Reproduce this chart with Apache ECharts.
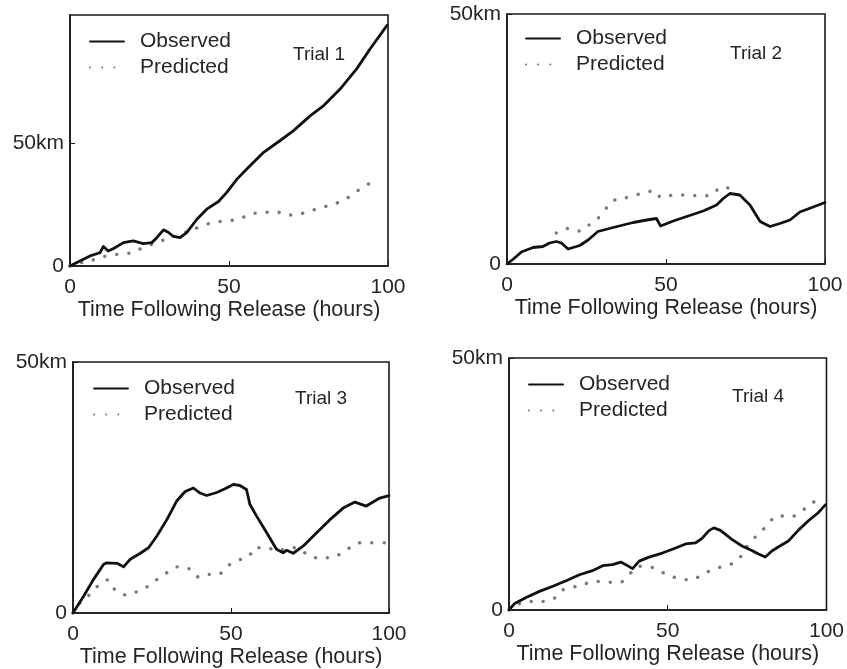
<!DOCTYPE html>
<html>
<head>
<meta charset="utf-8">
<title>Observed vs Predicted distance</title>
<script src="https://cdn.jsdelivr.net/npm/echarts@6/dist/echarts.min.js"></script>
<style>
  html, body { margin: 0; padding: 0; background: #ffffff; }
  #chart { width: 847px; height: 669px; }
</style>
</head>
<body>
<div id="chart"></div>
<script>
// Distance from release point (km) against time (hours), [hours, km]
var trial1Observed = [[0,0],[3.1,2],[6.3,4.1],[9.4,5.4],[10.5,7.9],[12,6.1],[13.7,7.1],[16.8,9.5],[19.9,10.2],[23,9.1],[25.7,9.5],[27.3,11.5],[29.4,14.7],[31,13.6],[32.5,12],[34.6,11.5],[36.7,13.6],[39.9,19],[43,23.1],[46.7,26.2],[49.3,29.9],[52.5,35.3],[55.6,39.4],[60.9,46.2],[66.1,51],[70.3,55],[75.6,61.1],[79.8,65.2],[85,72],[90.2,80.2],[94.4,88.3],[99.7,97.8]];
var trial1Predicted = [[0,0],[3.7,1.4],[7.9,2.7],[11.5,4.1],[15.2,4.8],[19.4,5.4],[23,7.5],[27.3,9.5],[31.5,11.5],[36.2,13.6],[40.9,15.9],[45.1,17.7],[49.3,18.3],[53.5,19.3],[56.6,21.1],[60.9,21.7],[64.5,22.1],[68.2,20.7],[71.9,21.1],[75.6,22.4],[79.2,23.8],[82.9,25.1],[86.6,27.2],[89.7,29.9],[93.4,33],[96.5,34.6]];

var trial2Observed = [[0,0],[2.4,1.2],[4.5,2.4],[8.2,3.3],[11.3,3.5],[13.4,4.2],[15.5,4.5],[17.1,4.2],[19.2,3],[22.9,3.7],[25.5,4.8],[28.6,6.5],[33.4,7.3],[39.7,8.3],[43.9,8.8],[47,9.1],[48.3,7.6],[52.3,8.6],[56.5,9.5],[61.7,10.6],[65.9,11.8],[68,13.1],[70.1,14.1],[73.2,13.8],[76.4,11.8],[79.6,8.5],[82.7,7.5],[85.8,8.1],[89,8.8],[92.1,10.4],[96.3,11.4],[100,12.3]];
var trial2Predicted = [[15.5,6.2],[19.2,7.1],[22.9,6.6],[26,7.9],[29.2,9.5],[33.9,12.8],[38.6,13.4],[42.8,14.2],[46.5,14.6],[48.6,13.3],[52.8,13.8],[57,13.8],[60.6,13.6],[64.3,13.8],[67.5,15.4],[70.6,15]];

var trial3Observed = [[0,0],[3.4,3.4],[6.5,6.7],[9.7,9.7],[10.7,10],[13.9,9.9],[16,9.2],[18.1,10.7],[21.3,11.9],[23.9,13],[26.5,15.3],[29.7,18.6],[32.8,22.3],[35.5,24.2],[38.1,24.9],[40.2,23.9],[42.3,23.4],[45.5,24],[48.6,24.9],[50.7,25.6],[52.8,25.4],[54.9,24.6],[56,21.6],[58.1,19.3],[61.3,16],[64.4,12.7],[66.5,12],[67.6,12.5],[69.7,11.9],[72.8,13.3],[77.1,16],[81.3,18.6],[85.5,20.9],[89.2,22.1],[92.8,21.3],[97.1,22.9],[100,23.4]];
var trial3Predicted = [[0,0],[2.3,2.1],[5.5,3.8],[8.1,5.5],[10.7,6.6],[13.4,4.6],[17.1,3.6],[20.7,4.4],[23.9,5.4],[27.1,6.9],[30.2,8.2],[33.4,9.2],[37.1,8.7],[40.2,7.1],[43.4,7.7],[45.5,7.6],[48.6,9.2],[51.8,10.4],[55.5,11.2],[57.6,13],[61.3,13],[64.4,12.4],[67.1,12.7],[70.2,13],[76.5,11],[80.7,11],[84.4,11.7],[87.6,13],[91.2,14],[94.9,14],[98.6,14]];

var trial4Observed = [[0,0],[1.8,1.3],[5.4,2.5],[9.6,3.7],[13.8,4.7],[18,5.8],[22.2,7],[26.3,7.8],[29.5,8.8],[32.6,9],[35.2,9.5],[36.8,9],[38.9,8.2],[41,9.7],[44.1,10.5],[48.3,11.3],[52.5,12.3],[55.6,13.1],[58.7,13.3],[60.8,14.2],[62.9,15.7],[64.5,16.3],[66.6,15.8],[70.2,14],[73.4,12.7],[76.5,11.8],[78.6,11.1],[80.7,10.5],[82.8,11.7],[84.8,12.5],[88,13.7],[91.1,15.8],[94.3,17.7],[97.4,19.3],[99.7,20.9]];
var trial4Predicted = [[0,0],[2.3,1],[6.5,1.7],[9.6,1.7],[13.3,2],[16.4,3.8],[20.1,4.5],[23.2,5],[26.9,5.7],[31,5.5],[34.7,5.5],[37.8,7.1],[42,8.7],[46.2,8.2],[49.8,7],[53.5,6.3],[57.2,6],[60.8,7],[64.5,8.1],[68.1,8.8],[71.8,9.8],[76,13.5],[79.1,15.3],[81.7,17.1],[84.8,18.7],[88.5,18.5],[92.1,19.7],[95.3,21],[97.9,23]];

var trialNames = ['Trial 1', 'Trial 2', 'Trial 3', 'Trial 4'];
var xTicks = [0, 50, 100];
var yTicks = [0, 50];
var yMax = [102, 50, 50, 50];

var observed = [trial1Observed, trial2Observed, trial3Observed, trial4Observed];
var predicted = [trial1Predicted, trial2Predicted, trial3Predicted, trial4Predicted];

var FONT = '"Liberation Sans", Arial, Helvetica, sans-serif';
var TEXT = '#262626';

// panel frames: [left, top, width, height]
var frames = [
  [70, 15, 318, 251],
  [507, 14, 318, 250],
  [73, 362, 316, 251],
  [509, 358, 319, 252]
];
// legend anchor [left, top] and trial label anchor [left, top]
var legendPos = [[89, 31], [525, 28], [93, 378], [528, 374]];
var labelPos = [[293, 45], [730, 44], [295, 389], [732, 387]];

var grids = [], xAxes = [], yAxes = [], series = [], legends = [], titles = [];

frames.forEach(function (f, i) {
  grids.push({
    left: f[0], top: f[1], width: f[2], height: f[3],
    show: true, borderColor: '#1a1a1a', borderWidth: 1.6, backgroundColor: 'transparent'
  });
  xAxes.push({
    type: 'value', gridIndex: i, min: 0, max: 100, interval: 50,
    name: 'Time Following Release (hours)', nameLocation: 'middle', nameGap: 32,
    nameTextStyle: { fontFamily: FONT, fontSize: 21.5, color: TEXT },
    axisLine: { show: true, onZero: false, lineStyle: { color: '#1a1a1a', width: 1.6 } },
    axisTick: { show: true, inside: true, length: 5, lineStyle: { color: '#1a1a1a' } },
    axisLabel: { fontFamily: FONT, fontSize: 21, color: TEXT, margin: 11,
      customValues: xTicks, showMinLabel: true, showMaxLabel: true },
    splitLine: { show: false }
  });
  yAxes.push({
    type: 'value', gridIndex: i, min: 0, max: yMax[i],
    axisLine: { show: true, lineStyle: { color: '#1a1a1a', width: 1.6 } },
    axisTick: { show: true, inside: true, length: 5, customValues: yTicks, lineStyle: { color: '#1a1a1a' } },
    axisLabel: { fontFamily: FONT, fontSize: 21, color: TEXT, margin: 6,
      customValues: yTicks,
      formatter: function (v) { return v === 0 ? '0' : v + 'km'; } },
    splitLine: { show: false }
  });
  series.push({
    name: 'Observed', type: 'line', xAxisIndex: i, yAxisIndex: i,
    data: observed[i], symbol: 'none', smooth: false,
    lineStyle: { color: '#111111', width: 2.8, join: 'round', cap: 'round' },
    itemStyle: { color: '#111111' }, z: 3
  });
  series.push({
    name: 'Predicted', type: 'line', xAxisIndex: i, yAxisIndex: i,
    data: predicted[i], symbol: 'none', smooth: true,
    lineStyle: { color: '#7a7a7a', width: 3.4, type: [0.1, 12], cap: 'round' },
    itemStyle: { color: '#7a7a7a' }, z: 2
  });
  legends.push({
    data: ['Observed', 'Predicted'], orient: 'vertical',
    left: legendPos[i][0], top: legendPos[i][1], padding: 0,
    itemWidth: 34, itemHeight: 14, itemGap: 5, selectedMode: false,
    itemStyle: { opacity: 0 },
    textStyle: { fontFamily: FONT, fontSize: 21, color: TEXT, padding: [0, 0, 0, 11] }
  });
  titles.push({
    text: trialNames[i], left: labelPos[i][0], top: labelPos[i][1], padding: 0,
    textStyle: { fontFamily: FONT, fontSize: 19, fontWeight: 'normal', color: TEXT }
  });
});

var chart = echarts.init(document.getElementById('chart'), null, { renderer: 'canvas' });
chart.setOption({
  backgroundColor: '#ffffff',
  animation: false,
  title: titles,
  legend: legends,
  grid: grids,
  xAxis: xAxes,
  yAxis: yAxes,
  series: series
});
</script>
</body>
</html>
